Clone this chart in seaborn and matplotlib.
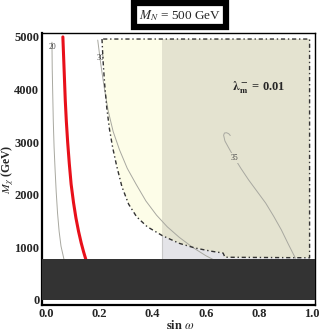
import numpy as np
import seaborn as sns
import matplotlib.pyplot as plt
from matplotlib.patches import Polygon, Rectangle

# red constraint curve (sin w, M_chi)
red_x = [0.063, 0.066, 0.069, 0.072, 0.076, 0.081, 0.087, 0.094, 0.103, 0.112, 0.122, 0.132, 0.141, 0.149]
red_y = [5000, 4600, 4200, 3800, 3400, 3000, 2600, 2200, 1850, 1560, 1300, 1080, 910, 774]

# gray contour "20"
c20_x = [0.022, 0.023, 0.025, 0.027, 0.030, 0.034, 0.038, 0.043, 0.049, 0.056, 0.067]
c20_y = [4900, 4400, 3900, 3400, 2900, 2450, 2050, 1650, 1300, 1020, 774]

# gray contour "30"
c30_x = [0.194, 0.205, 0.218, 0.233, 0.252, 0.276, 0.305, 0.338, 0.375, 0.415, 0.455, 0.50, 0.55, 0.60, 0.63]
c30_y = [4940, 4500, 4050, 3600, 3200, 2850, 2500, 2200, 1880, 1610, 1390, 1190, 1000, 840, 760]

# gray contour "35" (with small hook at the top)
c35_x = [0.692, 0.686, 0.678, 0.670, 0.667, 0.672, 0.685, 0.705, 0.732, 0.761, 0.793, 0.825, 0.855, 0.884, 0.910, 0.937]
c35_y = [3125, 3160, 3178, 3172, 3130, 3020, 2900, 2720, 2500, 2280, 2060, 1840, 1590, 1330, 1060, 790]

# dash-dot boundary of allowed region (left edge, top to bottom)
edge_x = [0.210, 0.214, 0.220, 0.228, 0.238, 0.250, 0.265, 0.285, 0.310, 0.340, 0.380, 0.437,
          0.500, 0.560, 0.620, 0.665, 0.672]
edge_y = [4960, 4550, 4100, 3650, 3250, 2900, 2550, 2150, 1820, 1580, 1390, 1220,
          1075, 985, 925, 890, 810]
edge_right = 0.99
edge_top = 4960
edge_bottom = 800

split_x = 0.437   # vertical boundary of gray region
band_top = 774    # excluded dark band

sns.set_style("white")
plt.rcParams['font.family'] = ['Liberation Serif', 'DejaVu Serif']
plt.rcParams['mathtext.fontset'] = 'stix'

fig = plt.figure(figsize=(3.19, 3.36), dpi=100)
ax = fig.add_axes([0.132, 0.092, 0.856, 0.810])

# gray region
ax.add_patch(Rectangle((split_x, band_top), edge_right - split_x, edge_top - band_top,
                       facecolor='#e4e4e8', edgecolor='none', zorder=1))
ax.plot([split_x, split_x], [band_top, edge_top], color='#c8c8c8', lw=0.8, zorder=1.5)

# yellow allowed region
bx = edge_x + [edge_right, edge_right]
by = edge_y + [edge_bottom, edge_top]
region = Polygon(np.column_stack([bx, by]), closed=True, facecolor='#fdfde8',
                 edgecolor='none', zorder=2)
ax.add_patch(region)
beige = Rectangle((split_x, band_top), edge_right - split_x, edge_top - band_top + 50,
                  facecolor='#e4e3d0', edgecolor='none', zorder=3)
ax.add_patch(beige)
beige.set_clip_path(region)

# dash-dot border
ax.plot(bx + [bx[0]], by + [by[0]], color='#333333', lw=1.0,
        linestyle=(0, (3, 2, 1, 2)), zorder=6)

# contours
for cx, cy in [(c20_x, c20_y), (c30_x, c30_y), (c35_x, c35_y)]:
    sns.lineplot(x=cx, y=cy, sort=False, estimator=None, ax=ax,
                 color='#a8a8a0', lw=0.7, zorder=5)
sns.lineplot(x=red_x, y=red_y, sort=False, estimator=None, ax=ax,
             color='#e8101a', lw=2.2, zorder=7)

lab_kw = dict(fontsize=5.5, ha='center', va='center', color='#444444', zorder=8)
ax.text(0.024, 4800, '20', **lab_kw)
ax.text(0.205, 4590, '30', **lab_kw)
ax.text(0.708, 2700, '35', bbox=dict(facecolor='#e4e3d0', edgecolor='none', pad=0.5), **lab_kw)

# excluded band
ax.add_patch(Rectangle((-0.05, 0), 1.1, band_top, facecolor='#333333',
                       edgecolor='none', zorder=9))

ax.text(0.80, 4030, r'$\mathbf{\lambda_m^-}$ = 0.01', fontsize=9, fontweight='bold',
        ha='center', va='center', zorder=10)

ax.set_xlim(-0.015, 1.011)
ax.set_ylim(-100, 5076)
ax.set_xticks([0.0, 0.2, 0.4, 0.6, 0.8, 1.0])
ax.set_xticklabels(['0.0', '0.2', '0.4', '0.6', '0.8', '1.0'])
ax.set_yticks([0, 1000, 2000, 3000, 4000, 5000])
ax.tick_params(labelsize=9, length=0, pad=2)
for lab in ax.get_xticklabels() + ax.get_yticklabels():
    lab.set_fontweight('bold')
for sp in ax.spines.values():
    sp.set_color('black')
    sp.set_linewidth(1.0)
ax.spines['left'].set_linewidth(1.6)
ax.spines['bottom'].set_linewidth(1.6)

ax.set_xlabel(r'$\mathbf{sin}$ $\omega$', fontsize=9)
ax.set_ylabel(r'$M_\chi$ (GeV)', fontsize=8.5, fontweight='bold')
ax.xaxis.set_label_coords(0.505, -0.052)
ax.yaxis.set_label_coords(-0.094, 0.5)

fig.text(0.564, 0.955, r'$M_N$ = 500 GeV', fontsize=9.5, ha='center', va='center',
         bbox=dict(boxstyle='square,pad=0.35', facecolor='white', edgecolor='black', linewidth=4.5))

fig.savefig('out.png', dpi=100)
